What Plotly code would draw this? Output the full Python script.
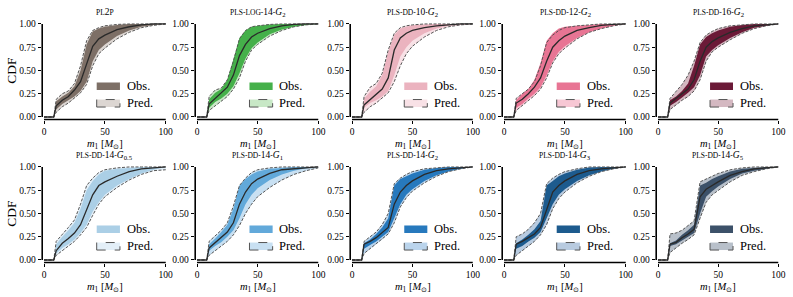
import plotly.graph_objects as go

# ---------------- data ----------------
m1 = [0, 8, 10, 15, 20, 25, 30, 35, 40, 45, 50, 60, 70, 80, 90, 100]

titles = ["PL2P", "PLS-LOG-14-G2", "PLS-DD-10-G2", "PLS-DD-12-G2", "PLS-DD-16-G2",
          "PLS-DD-14-G0.5", "PLS-DD-14-G1", "PLS-DD-14-G2", "PLS-DD-14-G3", "PLS-DD-14-G5"]

# panel 1: PL2P
p1_med = [0, 0, .12, .18, .22, .29, .38, .58, .76, .84, .88, .94, .97, .99, 1, 1]
p1_obs_lo = [0, 0, .08, .14, .18, .22, .28, .38, .60, .72, .78, .87, .93, .97, .99, 1]
p1_obs_hi = [0, 0, .17, .22, .26, .33, .50, .78, .92, .95, .97, .99, 1, 1, 1, 1]
p1_pred_lo = [0, 0, .05, .11, .15, .20, .26, .35, .55, .68, .74, .84, .91, .96, .985, 1]
p1_pred_hi = [0, 0, .19, .25, .28, .36, .55, .82, .93, .96, .98, .995, 1, 1, 1, 1]
# panel 2: PLS-LOG-14-G2
p2_med = [0, 0, .14, .20, .25, .32, .45, .66, .78, .86, .90, .95, .98, .995, 1, 1]
p2_obs_lo = [0, 0, .10, .16, .20, .25, .33, .47, .63, .74, .80, .89, .94, .97, .99, 1]
p2_obs_hi = [0, 0, .19, .26, .30, .40, .62, .85, .93, .97, .98, .995, 1, 1, 1, 1]
p2_pred_lo = [0, 0, .07, .12, .17, .22, .30, .42, .60, .72, .78, .87, .93, .97, .99, 1]
p2_pred_hi = [0, 0, .22, .29, .31, .40, .60, .84, .93, .97, .98, .995, 1, 1, 1, 1]
# panel 3: PLS-DD-10-G2
p3_med = [0, 0, .13, .19, .24, .30, .42, .72, .85, .90, .93, .96, .98, .99, 1, 1]
p3_obs_lo = [0, 0, .10, .15, .18, .22, .28, .45, .65, .75, .82, .90, .95, .98, .99, 1]
p3_obs_hi = [0, 0, .20, .27, .33, .45, .70, .88, .95, .97, .985, .995, 1, 1, 1, 1]
p3_pred_lo = [0, 0, .05, .11, .15, .20, .26, .38, .55, .68, .76, .86, .93, .97, .99, 1]
p3_pred_hi = [0, 0, .22, .32, .36, .47, .72, .90, .96, .98, .99, 1, 1, 1, 1, 1]
# panel 4: PLS-DD-12-G2
p4_med = [0, 0, .15, .19, .25, .32, .42, .60, .75, .82, .87, .93, .96, .985, .995, 1]
p4_obs_lo = [0, 0, .10, .14, .20, .25, .32, .45, .60, .70, .76, .85, .91, .95, .98, 1]
p4_obs_hi = [0, 0, .18, .25, .30, .40, .58, .82, .90, .95, .97, .98, .99, 1, 1, 1]
p4_pred_lo = [0, 0, .07, .12, .18, .23, .30, .42, .58, .68, .74, .84, .91, .95, .98, 1]
p4_pred_hi = [0, 0, .20, .25, .30, .38, .55, .80, .88, .93, .96, .98, .99, 1, 1, 1]
# panel 5: PLS-DD-16-G2
p5_med = [0, 0, .15, .20, .25, .30, .40, .60, .75, .81, .85, .91, .95, .98, .99, 1]
p5_obs_lo = [0, 0, .12, .16, .21, .26, .32, .45, .65, .72, .77, .85, .91, .96, .98, 1]
p5_obs_hi = [0, 0, .18, .22, .28, .36, .55, .78, .86, .90, .93, .97, .99, 1, 1, 1]
p5_pred_lo = [0, 0, .08, .13, .18, .22, .28, .40, .60, .70, .75, .83, .90, .95, .98, 1]
p5_pred_hi = [0, 0, .20, .27, .35, .45, .60, .80, .88, .92, .95, .98, .99, 1, 1, 1]
# panel 6: PLS-DD-14-G0.5
p6_med = [0, 0, .10, .18, .23, .29, .38, .55, .70, .80, .84, .90, .95, .98, .99, 1]
p6_obs_lo = [0, 0, .07, .13, .17, .22, .29, .38, .52, .62, .70, .80, .87, .93, .97, 1]
p6_obs_hi = [0, 0, .17, .25, .32, .40, .55, .75, .85, .92, .96, .98, .99, 1, 1, 1]
p6_pred_lo = [0, 0, .05, .10, .15, .20, .27, .35, .48, .60, .68, .78, .86, .92, .96, .97]
p6_pred_hi = [0, 0, .20, .27, .35, .43, .60, .80, .88, .94, .97, .99, 1, 1, 1, 1]
# panel 7: PLS-DD-14-G1
p7_med = [0, 0, .13, .19, .24, .30, .40, .60, .73, .82, .87, .93, .97, .98, .99, 1]
p7_obs_lo = [0, 0, .10, .15, .19, .25, .32, .45, .60, .70, .77, .86, .92, .96, .985, 1]
p7_obs_hi = [0, 0, .17, .23, .30, .38, .55, .80, .87, .92, .95, .98, .99, 1, 1, 1]
p7_pred_lo = [0, 0, .05, .10, .15, .20, .27, .37, .50, .60, .68, .78, .86, .92, .96, .99]
p7_pred_hi = [0, 0, .20, .26, .32, .40, .58, .80, .88, .94, .97, .99, 1, 1, 1, 1]
# panel 8: PLS-DD-14-G2
p8_med = [0, 0, .17, .20, .24, .29, .35, .60, .73, .80, .85, .92, .96, .98, .99, 1]
p8_obs_lo = [0, 0, .12, .16, .20, .25, .30, .45, .60, .70, .76, .85, .91, .95, .98, 1]
p8_obs_hi = [0, 0, .18, .22, .28, .35, .45, .80, .87, .90, .93, .97, .99, 1, 1, 1]
p8_pred_lo = [0, 0, .07, .12, .17, .22, .28, .40, .57, .67, .74, .83, .90, .95, .98, 1]
p8_pred_hi = [0, 0, .20, .25, .30, .38, .50, .82, .88, .92, .95, .98, .99, 1, 1, 1]
# panel 9: PLS-DD-14-G3
p9_med = [0, 0, .17, .20, .24, .28, .35, .55, .73, .80, .85, .92, .96, .98, .99, 1]
p9_obs_lo = [0, 0, .12, .15, .20, .24, .30, .45, .60, .70, .76, .85, .91, .95, .98, 1]
p9_obs_hi = [0, 0, .18, .22, .27, .33, .42, .80, .85, .90, .93, .97, .995, 1, 1, 1]
p9_pred_lo = [0, 0, .05, .10, .15, .20, .27, .38, .55, .66, .73, .83, .90, .95, .98, 1]
p9_pred_hi = [0, 0, .25, .28, .33, .40, .50, .82, .88, .92, .95, .98, 1, 1, 1, 1]
# panel 10: PLS-DD-14-G5
p10_med = [0, 0, .17, .19, .24, .28, .33, .68, .76, .80, .84, .91, .95, .98, .99, 1]
p10_obs_lo = [0, 0, .15, .17, .21, .25, .29, .50, .68, .74, .79, .87, .93, .96, .98, 1]
p10_obs_hi = [0, 0, .18, .21, .27, .32, .38, .80, .83, .87, .90, .95, .98, .99, 1, 1]
p10_pred_lo = [0, 0, .08, .13, .18, .22, .27, .45, .62, .70, .75, .84, .91, .95, .98, 1]
p10_pred_hi = [0, 0, .28, .29, .32, .37, .42, .84, .87, .90, .93, .97, .99, 1, 1, 1]

medians = [p1_med, p2_med, p3_med, p4_med, p5_med, p6_med, p7_med, p8_med, p9_med, p10_med]
obs_los = [p1_obs_lo, p2_obs_lo, p3_obs_lo, p4_obs_lo, p5_obs_lo, p6_obs_lo, p7_obs_lo, p8_obs_lo, p9_obs_lo, p10_obs_lo]
obs_his = [p1_obs_hi, p2_obs_hi, p3_obs_hi, p4_obs_hi, p5_obs_hi, p6_obs_hi, p7_obs_hi, p8_obs_hi, p9_obs_hi, p10_obs_hi]
pred_los = [p1_pred_lo, p2_pred_lo, p3_pred_lo, p4_pred_lo, p5_pred_lo, p6_pred_lo, p7_pred_lo, p8_pred_lo, p9_pred_lo, p10_pred_lo]
pred_his = [p1_pred_hi, p2_pred_hi, p3_pred_hi, p4_pred_hi, p5_pred_hi, p6_pred_hi, p7_pred_hi, p8_pred_hi, p9_pred_hi, p10_pred_hi]

obs_colors = ["#7d6f66", "#45b04a", "#ebb3bf", "#e87594", "#6b1a37",
              "#abcfe6", "#62a9da", "#2779bd", "#1d5b8e", "#3c5169"]
pred_colors = ["#dcd6d2", "#c8e8c6", "#f8e1e6", "#f7c7d4", "#d4b8c1",
               "#e3eff8", "#c8e0f2", "#bad4ec", "#b8cbe0", "#b8c0ca"]

x_ticks = [0, 50, 100]
y_ticks = [0, 0.25, 0.5, 0.75, 1.0]

# ---------------- layout helpers ----------------
W, H = 793, 297
FONT = "Liberation Serif"
col_px = [(42.2, 167.2), (195.2, 319.7), (350.2, 474.2), (502.2, 627.2), (656.2, 779.7)]
row_px = [(22.1, 119.5), (165.1, 262.5)]


def sc(s):
    return '<span style="font-size:7.5px">' + s + '</span>'


def fmt_title(t):
    parts = t.split("-")
    out = []
    for p in parts:
        if p.startswith("G") and len(p) > 1:
            out.append('<i>G</i><sub>' + p[1:] + '</sub>')
        elif p.isalpha():
            out.append(sc(p))
        elif p.isdigit():
            out.append(p)
        else:
            s = ""
            for ch in p:
                s += ch if ch.isdigit() else sc(ch)
            out.append(s)
    return sc("-").join(out)


fig = go.Figure()
layout = dict(template="none", width=W, height=H, margin=dict(l=0, r=0, t=0, b=0, autoexpand=False),
              paper_bgcolor="white", plot_bgcolor="white", showlegend=False,
              font=dict(family=FONT, color="black", size=9))
shapes = []
annotations = []

for i in range(10):
    k = i + 1
    r, c = divmod(i, 5)
    xa = "x" if k == 1 else f"x{k}"
    ya = "y" if k == 1 else f"y{k}"
    xl, xr = col_px[c]
    yt, yb = row_px[r]
    layout[f"xaxis{k}" if k > 1 else "xaxis"] = dict(
        domain=[xl / W, xr / W], anchor=ya, range=[-1.5, 101.2], automargin=False,
        showgrid=False, zeroline=False, showline=False,
        tickvals=x_ticks, ticktext=[str(v) for v in x_ticks],
        ticks="outside", ticklen=3.5, tickwidth=1.2, tickcolor="black",
        tickfont=dict(family=FONT, size=9.5))
    layout[f"yaxis{k}" if k > 1 else "yaxis"] = dict(
        domain=[1 - yb / H, 1 - yt / H], anchor=xa, range=[-0.027, 1.02], automargin=False,
        showgrid=False, zeroline=False, showline=False,
        tickvals=y_ticks, ticktext=[f"{v:.2f}" for v in y_ticks],
        ticks="outside", ticklen=3.5, tickwidth=1.2, tickcolor="black",
        tickfont=dict(family=FONT, size=9.5))

    fig.add_trace(go.Scatter(x=m1 + m1[::-1], y=pred_his[i] + pred_los[i][::-1],
                             fill="toself", fillcolor=pred_colors[i], mode="none",
                             xaxis=xa, yaxis=ya, hoverinfo="skip"))
    fig.add_trace(go.Scatter(x=m1 + m1[::-1], y=obs_his[i] + obs_los[i][::-1],
                             fill="toself", fillcolor=obs_colors[i], mode="none",
                             xaxis=xa, yaxis=ya, hoverinfo="skip"))
    for arr in (pred_los[i], pred_his[i]):
        fig.add_trace(go.Scatter(x=m1, y=arr, mode="lines",
                                 line=dict(color="#555555", width=1, dash="3px,1.5px"),
                                 xaxis=xa, yaxis=ya, hoverinfo="skip"))
    fig.add_trace(go.Scatter(x=m1, y=medians[i], mode="lines",
                             line=dict(color="#2a2a2a", width=1.3),
                             xaxis=xa, yaxis=ya))

    shapes.append(dict(type="line", xref=xa, yref=f"{ya} domain", x0=0, x1=100, y0=0, y1=0,
                       line=dict(color="black", width=1.6), layer="above"))
    shapes.append(dict(type="line", xref=f"{xa} domain", yref=ya, x0=0, x1=0, y0=0, y1=1,
                       line=dict(color="black", width=1.6), layer="above"))

    shapes.append(dict(type="rect", xref=f"{xa} domain", yref=f"{ya} domain",
                       x0=0.436, x1=0.622, y0=0.303, y1=0.38,
                       fillcolor=obs_colors[i], line=dict(width=0), layer="above"))
    shapes.append(dict(type="rect", xref=f"{xa} domain", yref=f"{ya} domain",
                       x0=0.436, x1=0.622, y0=0.128, y1=0.205,
                       fillcolor=pred_colors[i], line=dict(color="#555555", width=1, dash="dash"),
                       layer="above"))
    annotations.append(dict(text="Obs.", xref=f"{xa} domain", yref=f"{ya} domain",
                            x=0.66, y=0.342, xanchor="left", yanchor="middle",
                            showarrow=False, font=dict(family=FONT, size=12.5)))
    annotations.append(dict(text="Pred.", xref=f"{xa} domain", yref=f"{ya} domain",
                            x=0.66, y=0.167, xanchor="left", yanchor="middle",
                            showarrow=False, font=dict(family=FONT, size=12.5)))

    cx = (xl + 1.8 + (xr - xl - 3) / 2) / W
    annotations.append(dict(text=fmt_title(titles[i]), xref="paper", yref="paper",
                            x=cx, y=1 - (yt - 10) / H,
                            xanchor="center", yanchor="middle", showarrow=False,
                            font=dict(family=FONT, size=9.5)))
    annotations.append(dict(text="<i>m</i><sub>1</sub> [<i>M</i><sub>⊙</sub>]",
                            xref="paper", yref="paper",
                            x=cx, y=1 - (yb + 16) / H,
                            xanchor="center", yanchor="top", showarrow=False,
                            font=dict(family=FONT, size=10.5)))
    if c == 0:
        annotations.append(dict(text="CDF", xref="paper", yref="paper",
                                x=12 / W, y=1 - ((yt + yb) / 2) / H, textangle=-90,
                                xanchor="center", yanchor="middle", showarrow=False,
                                font=dict(family=FONT, size=13.5)))

layout["shapes"] = shapes
layout["annotations"] = annotations
fig.update_layout(**layout)
fig.write_html("out.html", config={"displayModeBar": False},
               post_script="document.body.style.margin='0px';document.body.style.overflow='hidden';")
